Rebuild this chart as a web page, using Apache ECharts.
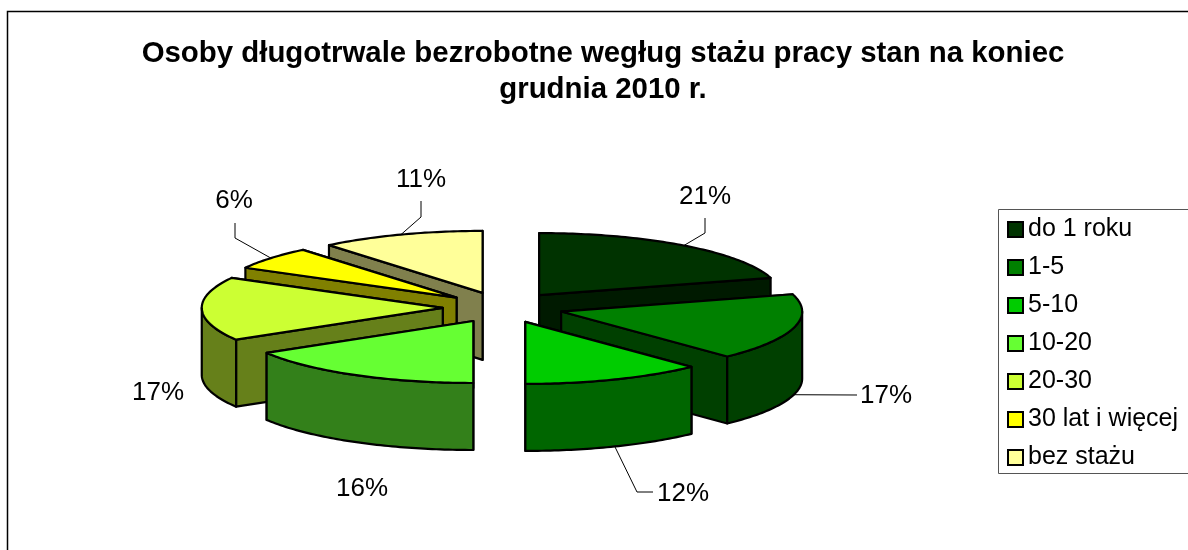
<!DOCTYPE html>
<html><head><meta charset="utf-8">
<style>html,body{margin:0;padding:0;background:#fff}#c{width:1188px;height:550px}</style>
<script src="https://cdn.jsdelivr.net/npm/echarts@6/dist/echarts.min.js"></script>
</head><body><div id="c"></div>
<script>
const titleText = 'Osoby długotrwale bezrobotne wegług stażu pracy stan na koniec\ngrudnia 2010 r.';
const categories = ['do 1 roku','1-5','5-10','10-20','20-30','30 lat i więcej','bez stażu'];
const shares = [20.5,17.4,12.1,16.4,16.6,6,11];
const topColors = ['#003300','#008000','#00CC00','#66FF33','#CCFF33','#FFFF00','#FFFF99'];

// Layout of the projected pie (not data)
const cx=503, cy=307.5, rx=241, ry=62, depth=67, explode=0.25;
const labelPos = [[705,197],[886,396],[683,494],[362,489],[158,393],[234,201],[421,180]];
const elbows = [[[705,233],[705,218]],[[857,395]],[[637,492],[653,492]],null,null,[[235,238],[235,223]],[[421,217],[421,201]]];

const total = shares.reduce((a,b)=>a+b,0);
let acc=0;
const slices = shares.map(v=>{const s=acc/total*360; acc+=v; return {s,e:acc/total*360,m:(s+acc/total*360)/2};});
const order = slices.map((d,i)=>[i,-Math.cos(d.m*Math.PI/180)]).sort((a,b)=>a[1]-b[1]).map(d=>d[0]);
const half = h => '#'+[1,3,5].map(i=>Math.round(parseInt(h.substr(i,2),16)/2).toString(16).padStart(2,'0')).join('');

function pt(ax,ay,deg,dz){const r=deg*Math.PI/180;return [ax+rx*Math.sin(r),ay-ry*Math.cos(r)+(dz||0)];}
function arc(ax,ay,a,b,dz){const p=[];const n=Math.max(2,Math.ceil(Math.abs(b-a)));for(let k=0;k<=n;k++)p.push(pt(ax,ay,a+(b-a)*k/n,dz));return p;}
const stroke={stroke:'#000',lineWidth:2.2,lineJoin:'round'};

function renderSlice(params){
  const i=params.seriesIndex, d=slices[i], r=d.m*Math.PI/180;
  const ax=cx+rx*explode*Math.sin(r), ay=cy-ry*explode*Math.cos(r);
  const top=topColors[i], side=half(top), kids=[];
  const wall=a=>{const o=pt(ax,ay,a);return {type:'polygon',shape:{points:[[ax,ay],o,[o[0],o[1]+depth],[ax,ay+depth]]},style:Object.assign({fill:side},stroke)};};
  // hidden radial wall first, the wall that faces the viewer after it
  if(Math.sin(d.s*Math.PI/180)<-1e-6){kids.push(wall(d.e),wall(d.s));}else{kids.push(wall(d.s),wall(d.e));}
  const fa=Math.max(d.s,90), fb=Math.min(d.e,270);
  if(fb>fa){kids.push({type:'polygon',shape:{points:arc(ax,ay,fa,fb,0).concat(arc(ax,ay,fb,fa,depth))},style:Object.assign({fill:side},stroke)});}
  kids.push({type:'polygon',shape:{points:[[ax,ay]].concat(arc(ax,ay,d.s,d.e,0))},style:Object.assign({fill:top},stroke)});
  if(elbows[i]){
    const front=d.m>90&&d.m<270;
    kids.push({type:'polyline',shape:{points:[pt(ax,ay,d.m,front?depth:0)].concat(elbows[i])},style:{fill:null,stroke:'#000',lineWidth:1}});
  }
  kids.push({type:'text',x:labelPos[i][0],y:labelPos[i][1],style:{text:Math.round(shares[i])+'%',font:'26px "Liberation Sans"',fill:'#000',align:'center',verticalAlign:'middle'}});
  return {type:'group',children:kids};
}

const chart=echarts.init(document.getElementById('c'),null,{renderer:'canvas'});
chart.setOption({
  animation:false,backgroundColor:'#fff',
  title:{text:titleText,left:598,top:31,textAlign:'center',textStyle:{fontFamily:'Liberation Sans',fontSize:29.4,fontWeight:'bold',color:'#000',lineHeight:36}},
  legend:{show:true,orient:'vertical',left:1007,top:217,data:categories,icon:'rect',itemWidth:15,itemHeight:15,itemGap:13,selectedMode:false,padding:0,
    itemStyle:{borderColor:'#000',borderWidth:2},
    textStyle:{fontFamily:'Liberation Sans',fontSize:25,color:'#000',lineHeight:25}},
  graphic:[
    {type:'polyline',silent:true,z:-1,shape:{points:[[7.5,550],[7.5,11.5],[1188,11.5]]},style:{fill:null,stroke:'#000',lineWidth:1.5}},
    {type:'rect',silent:true,z:-1,shape:{x:998.5,y:209.5,width:200,height:264},style:{fill:'#fff',stroke:'#555',lineWidth:1}}
  ],
  series:categories.map((name,i)=>({type:'custom',name,coordinateSystem:'none',z:3+order.indexOf(i),silent:true,itemStyle:{color:topColors[i]},renderItem:renderSlice,data:[[shares[i]]]}))
});
</script></body></html>
